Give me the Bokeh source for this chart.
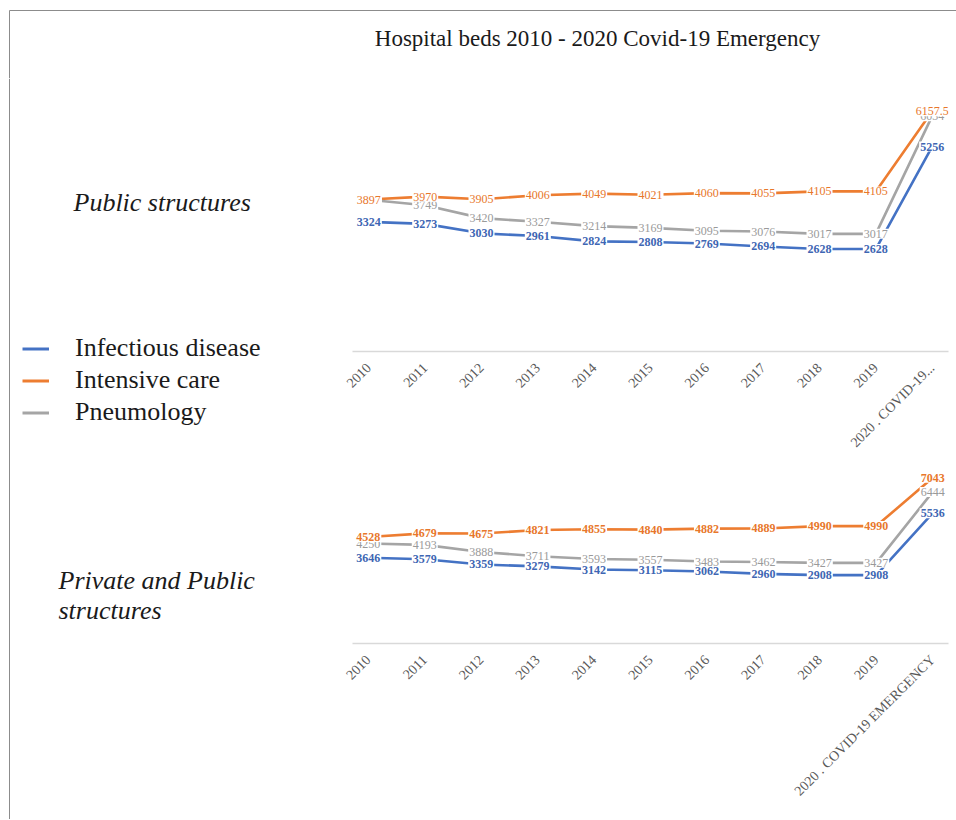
from math import pi
from bokeh.plotting import figure
from bokeh.models import FactorRange, ColumnDataSource, Label, Legend, LegendItem, Range1d
from bokeh.layouts import column, row
from bokeh.embed import file_html
from bokeh.resources import INLINE
from bokeh.core.properties import value

years = ["2010", "2011", "2012", "2013", "2014", "2015", "2016", "2017", "2018", "2019"]
top_last = "2020 . COVID-19..."
bottom_last = "2020 . COVID-19 EMERGENCY"

series_names = ["Infectious disease", "Intensive care", "Pneumology"]

pub_infectious = [3324, 3273, 3030, 2961, 2824, 2808, 2769, 2694, 2628, 2628, 5256]
pub_intensive = [3897, 3970, 3905, 4006, 4049, 4021, 4060, 4055, 4105, 4105, 6157.5]
pub_pneumo = [3891, 3749, 3420, 3327, 3214, 3169, 3095, 3076, 3017, 3017, 6034]

all_infectious = [3646, 3579, 3359, 3279, 3142, 3115, 3062, 2960, 2908, 2908, 5536]
all_intensive = [4528, 4679, 4675, 4821, 4855, 4840, 4882, 4889, 4990, 4990, 7043]
all_pneumo = [4250, 4193, 3888, 3711, 3593, 3557, 3483, 3462, 3427, 3427, 6444]

BLUE = "#4472C4"
ORANGE = "#ED7D31"
GRAY = "#A5A5A5"
FONT = "Liberation Serif"
FRAME_GRAY = "#8c8c8c"
TXT = "#1a1a1a"


def fmt(v):
    return f"{v:g}"


def blank(width, height):
    p = figure(width=width, height=height, output_backend="svg", toolbar_location=None,
               x_range=Range1d(0, width), y_range=Range1d(height, 0),
               min_border=0, title=None)
    p.axis.visible = False
    p.grid.visible = False
    p.outline_line_color = None
    return p


def make_chart(factors, inf, inten, pneu, ymax, height, bleft, bright, bbottom, pad, orange_style):
    p = figure(width=618, height=height, output_backend="svg", toolbar_location=None,
               x_range=FactorRange(*factors, range_padding=pad, range_padding_units="absolute"),
               y_range=Range1d(0, ymax), title=None,
               min_border_left=bleft, min_border_right=bright,
               min_border_top=0, min_border_bottom=bbottom)
    p.outline_line_color = None
    p.xgrid.visible = False
    p.ygrid.visible = False
    p.yaxis.visible = False
    ax = p.xaxis[0]
    ax.axis_line_color = "#D9D9D9"
    ax.axis_line_width = 1.5
    ax.major_tick_line_color = None
    ax.minor_tick_line_color = None
    ax.major_tick_out = 0
    ax.major_tick_in = 0
    ax.minor_tick_out = 0
    ax.major_label_orientation = pi / 4
    ax.major_label_text_font = FONT
    ax.major_label_text_font_size = "14px"
    ax.major_label_text_color = "#595959"
    ax.major_label_standoff = 14

    srcs = {}
    for name, vals, col in [("Infectious disease", inf, BLUE),
                            ("Intensive care", inten, ORANGE),
                            ("Pneumology", pneu, GRAY)]:
        src = ColumnDataSource(dict(x=factors, y=vals, t=[fmt(v) for v in vals]))
        srcs[name] = src
        p.line("x", "y", source=src, line_color=col, line_width=2.6)
    for name, col, style in [("Pneumology", "#9A9A9A", "normal"),
                             ("Infectious disease", "#3E66B3", "bold"),
                             ("Intensive care", "#E8772B", orange_style)]:
        p.text("x", "y", text="t", source=srcs[name], text_font=value(FONT),
               text_font_size="12px", text_font_style=style, text_color=col,
               text_align="center", text_baseline="middle",
               background_fill_color="white", padding=1)
    return p


# title strip (picture rows 0..78)
pt = blank(956, 78)
pt.segment(x0=[9], y0=[10], x1=[956], y1=[10], line_color=FRAME_GRAY, line_width=1)
pt.segment(x0=[9], y0=[10], x1=[9], y1=[78], line_color=FRAME_GRAY, line_width=1)
pt.add_layout(Label(x=597, y=38, text="Hospital beds 2010 - 2020 Covid-19 Emergency",
                    text_font=FONT, text_font_size="23px", text_color=TXT,
                    text_align="center", text_baseline="middle"))

# left column (picture rows 78..819)
LH = 741
pl = blank(338, LH)
pl.segment(x0=[9], y0=[0], x1=[9], y1=[LH], line_color=FRAME_GRAY, line_width=1)
OFF = 78
pl.add_layout(Label(x=73, y=202 - OFF, text="Public structures", text_font=FONT,
                    text_font_style="italic", text_font_size="26px", text_color=TXT,
                    text_align="left", text_baseline="middle"))
pl.add_layout(Label(x=58, y=580 - OFF, text="Private and Public", text_font=FONT,
                    text_font_style="italic", text_font_size="26px", text_color=TXT,
                    text_align="left", text_baseline="middle"))
pl.add_layout(Label(x=58, y=610 - OFF, text="structures", text_font=FONT,
                    text_font_style="italic", text_font_size="26px", text_color=TXT,
                    text_align="left", text_baseline="middle"))
leg_r = []
nan = float("nan")
for col in [BLUE, ORANGE, GRAY]:
    leg_r.append(pl.line(x=[nan, nan], y=[nan, nan], line_color=col, line_width=3))
legend = Legend(items=[LegendItem(label=n, renderers=[r]) for n, r in zip(series_names, leg_r)],
                location=(22, LH - (427 - OFF)), orientation="vertical",
                border_line_color=None, background_fill_alpha=0,
                padding=0, margin=0, spacing=2, glyph_width=27, glyph_height=25,
                label_height=25, label_standoff=26, label_text_font=FONT,
                label_text_font_size="26px", label_text_color=TXT)
pl.add_layout(legend)

p1 = make_chart(years + [top_last], pub_infectious, pub_intensive, pub_pneumo,
                7000, 385, 10, 8, 112, -0.21, "normal")
p2 = make_chart(years + [bottom_last], all_infectious, all_intensive, all_pneumo,
                7650, 356, 14, 0, 176, -0.22, "bold")

layout = column(pt, row(pl, column(p1, p2, spacing=0), spacing=0), spacing=0)

open("out.html", "w").write(file_html(layout, INLINE))
